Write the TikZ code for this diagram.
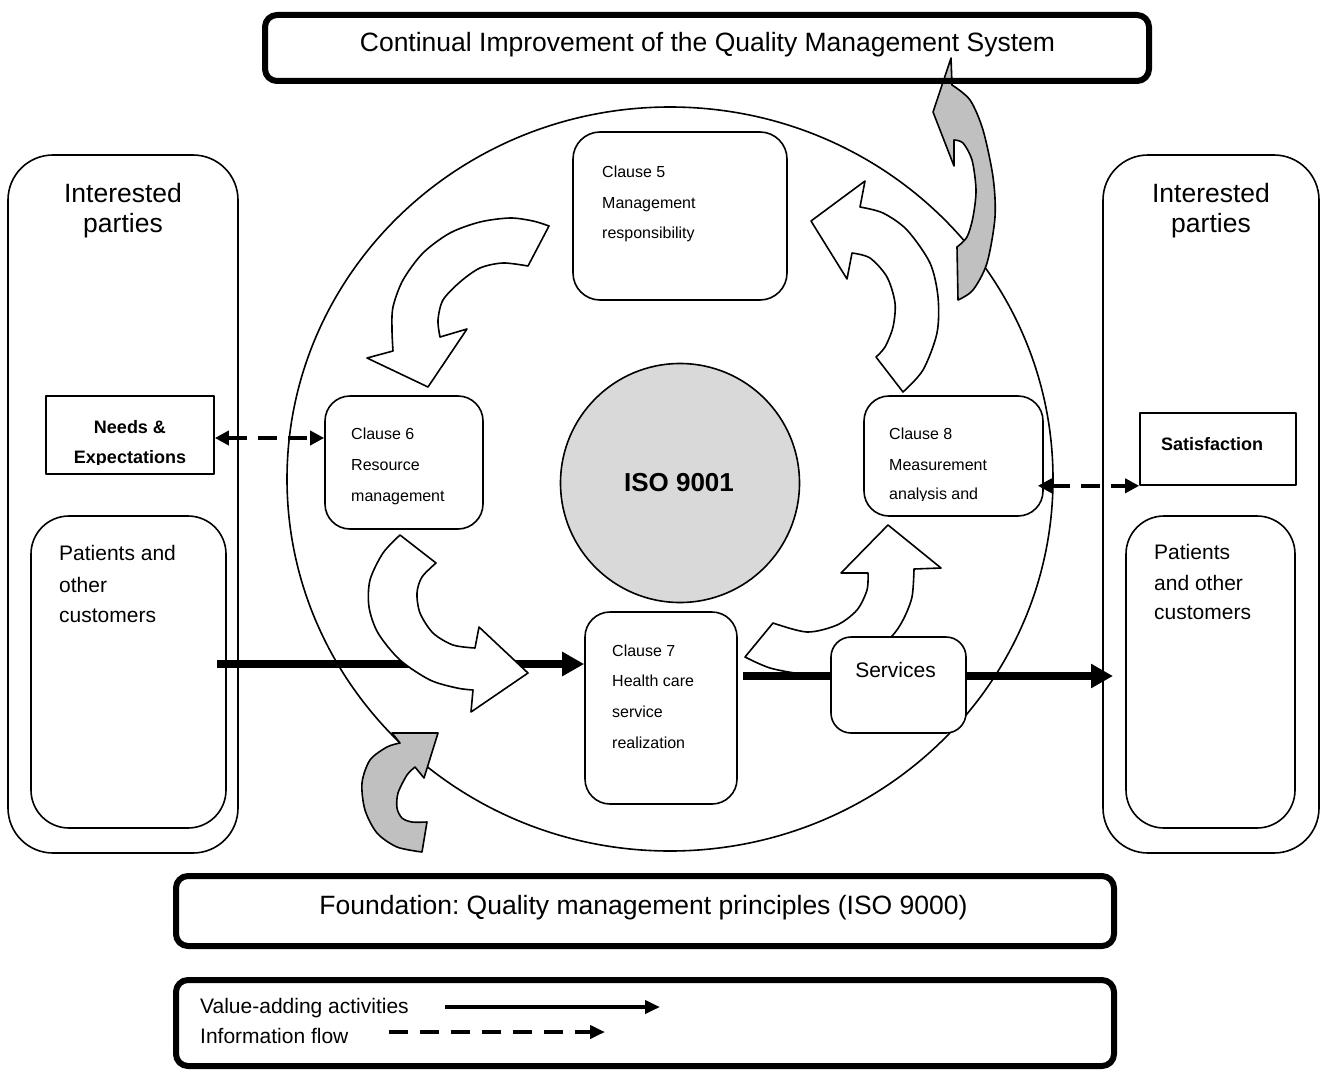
\documentclass[tikz,border=0pt]{standalone}
\usepackage{fontspec}
\setmainfont{Liberation Sans}
\usetikzlibrary{arrows.meta,shapes.geometric}
\definecolor{arrowgray}{HTML}{C0C0C0}
\definecolor{isogray}{HTML}{D9D9D9}
\frenchspacing
\begin{document}
\begin{tikzpicture}[x=1pt,y=-1pt,
  line join=round,
  heavybox/.style={draw, line width=6pt, rounded corners=12pt, inner sep=0pt},
  roundbox/.style={draw, line width=1.6pt, fill=white, inner sep=0pt},
  openbox/.style={draw, line width=1.6pt, inner sep=0pt},
  bigtext/.style={inner sep=0pt, anchor=base, font=\fontsize{26.5}{30}\selectfont},
  midtext/.style={inner sep=0pt, anchor=base west, font=\fontsize{21}{25}\selectfont},
  cltext/.style={inner sep=0pt, anchor=base west, font=\fontsize{16}{19}\selectfont},
  boldtext/.style={inner sep=0pt, anchor=base, font=\bfseries\fontsize{18}{21}\selectfont},
  blockwhite/.style={draw, line width=1.6pt, fill=white},
  blockgray/.style={draw, line width=1.6pt, fill=arrowgray},
  valueflow/.style={line width=8pt, -{Triangle[length=22pt,width=23pt]}},
  infoflow/.style={line width=4.5pt, dash pattern=on 19pt off 11pt,
     {Triangle[length=14pt,width=14pt]}-{Triangle[length=14pt,width=14pt]}},
  legsolid/.style={line width=4pt, -{Triangle[length=15pt,width=13pt]}},
  legdash/.style={line width=4pt, dash pattern=on 19pt off 12pt, -{Triangle[length=15pt,width=13pt]}},
]
\useasboundingbox (0,0) rectangle (1327,1070);

% big circle
\node[draw, line width=1.6pt, ellipse, minimum width=766pt, minimum height=744pt, inner sep=0pt] (bigcircle) at (670,479) {};

% interested parties columns
\node[openbox, rounded corners=45pt, minimum width=230pt, minimum height=698pt] (leftouter) at (123,504) {};
\node[openbox, rounded corners=38pt, minimum width=195pt, minimum height=312pt] (leftinner) at (128.5,672) {};
\node[openbox, rounded corners=45pt, minimum width=216pt, minimum height=698pt] (rightouter) at (1211,504) {};
\node[openbox, rounded corners=38pt, minimum width=169pt, minimum height=312pt] (rightinner) at (1210.5,672) {};

\node[bigtext] (lip1) at (123,202) {Interested};
\node[bigtext] (lip2) at (123,232) {parties};
\node[bigtext] (rip1) at (1211,202) {Interested};
\node[bigtext] (rip2) at (1211,232) {parties};

\node[midtext] (lpc1) at (59,560) {Patients and};
\node[midtext] (lpc2) at (59,592) {other};
\node[midtext] (lpc3) at (59,622) {customers};
\node[midtext] (rpc1) at (1154,559) {Patients};
\node[midtext] (rpc2) at (1154,590) {and other};
\node[midtext] (rpc3) at (1154,619) {customers};

% needs and satisfaction
\node[roundbox, minimum width=168pt, minimum height=78pt] (needs) at (130,435) {};
\begin{scope}
  \clip (46,396) rectangle (214,464);
  \node[boldtext] (needs1) at (130,433) {Needs \&};
  \node[boldtext] (needs2) at (130,463) {Expectations};
\end{scope}
\node[roundbox, minimum width=156pt, minimum height=72pt] (sat) at (1218,449) {};
\node[boldtext] (sattext) at (1212,450) {Satisfaction};

% clause boxes
\node[roundbox, rounded corners=27pt, minimum width=214pt, minimum height=168pt] (c5) at (680,216) {};
\node[cltext] (c5a) at (602,177) {Clause 5};
\node[cltext] (c5b) at (602,208) {Management};
\node[cltext] (c5c) at (602,238) {responsibility};

\node[roundbox, rounded corners=25pt, minimum width=158pt, minimum height=133pt] (c6) at (404,462.5) {};
\node[cltext] (c6a) at (351,439) {Clause 6};
\node[cltext] (c6b) at (351,470) {Resource};
\node[cltext] (c6c) at (351,501) {management};

\node[roundbox, rounded corners=25pt, minimum width=152pt, minimum height=192pt] (c7) at (661,708) {};
\node[cltext] (c7a) at (612,656) {Clause 7};
\node[cltext] (c7b) at (612,686) {Health care};
\node[cltext] (c7c) at (612,717) {service};
\node[cltext] (c7d) at (612,748) {realization};

\node[roundbox, rounded corners=25pt, minimum width=179pt, minimum height=120pt] (c8) at (953.5,456) {};
\begin{scope}
  \clip (864,396) rectangle (1043,500);
  \node[cltext] (c8a) at (889,439) {Clause 8};
  \node[cltext] (c8b) at (889,470) {Measurement};
  \node[cltext] (c8c) at (889,499) {analysis and};
\end{scope}

% ISO circle
\node[draw, line width=1.6pt, fill=isogray, circle, minimum size=239pt, inner sep=0pt] (iso) at (680,483) {};
\node[bigtext, font=\bfseries\fontsize{26}{30}\selectfont] (isotext) at (679,491) {ISO 9001};

% white block arrows
% Clause 5 -> Clause 6
\draw[blockwhite] plot[smooth] coordinates {(549,226) (533,221) (510,218) (480,222) (450,233) (423,253) (403,280) (393,307) (392,330) (393,351)}
  -- (367,358) -- (428,387) -- (467,329)
  -- plot[smooth] coordinates {(440,337) (438,320) (443,300) (460,282) (480,268) (503,263) (528,266)} -- cycle;
% Clause 8 -> Clause 5
\draw[blockwhite] plot[smooth] coordinates {(903,392) (923,370) (937,333) (938,297) (930,263) (907,230) (883,213) (860,207)}
  -- (865,181) -- (811,221) -- (847,279)
  -- plot[smooth] coordinates {(852,253) (870,258) (887,277) (895,303) (893,327) (885,347) (876,357)} -- cycle;
% Clause 7 -> Clause 8
\draw[blockwhite] plot[smooth] coordinates {(745,657) (770,668) (803,674) (830,673) (862,661) (891,637) (903,620) (912,597) (914,569)}
  -- (941,568) -- (888,525) -- (841,573)
  -- plot[smooth] coordinates {(868,573) (867,590) (857,610) (837,625) (807,632) (773,623)} -- cycle;

% value-adding flow into clause 7
\coordinate (vstart) at (217,664);
\draw[valueflow] (vstart) -- (vstart -| c7.west);

% Clause 6 -> Clause 7
\draw[blockwhite] plot[smooth] coordinates {(400,535) (383,553) (370,580) (369,607) (378,633) (400,660) (430,680) (457,688) (473,690)}
  -- (471,712) -- (528,673) -- (479,627)
  -- plot[smooth] coordinates {(475,648) (453,645) (433,633) (420,613) (417,593) (422,577) (436,563)} -- cycle;

% value-adding flow out of clause 7
\coordinate (vend) at (1113,676);
\draw[valueflow] ([xshift=5pt]c7.east |- vend) -- (vend);

% services
\node[roundbox, rounded corners=20pt, minimum width=135pt, minimum height=96pt] (services) at (898.5,685) {};
\node[bigtext, font=\fontsize{21}{25}\selectfont] (servtext) at (895.5,677) {Services};

% information flows
\draw[infoflow] ([yshift=-3pt]needs.east) -- ([yshift=-3pt]needs.east -| c6.west);
\draw[infoflow] ([xshift=-6pt]sat.south west -| c8.east) -- (sat.south west);

% gray arrows
\draw[blockgray] plot[smooth] coordinates {(958,300) (973,290) (987,263) (995,217) (993,177) (983,130) (970,100) (952,85)}
  -- (951,58) -- (933,112) -- (954,166)
  -- plot[smooth] coordinates {(954,140) (963,143) (972,160) (976,190) (973,217) (967,237) (957,247)} -- cycle;
\draw[blockgray] plot[smooth] coordinates {(422,852) (397,847) (377,833) (365,810) (362,783) (370,760) (387,747) (400,743)}
  -- (392,733) -- (438,733) -- (424,778)
  -- plot[smooth] coordinates {(415,767) (407,775) (398,793) (397,808) (402,818) (412,822) (427,822)} -- cycle;

% top, foundation and legend boxes
\node[heavybox, minimum width=884pt, minimum height=66pt] (topbox) at (707,48) {};
\node[bigtext] (toptext) at (707.5,52) {Continual Improvement of the Quality Management System};
\node[heavybox, minimum width=938pt, minimum height=70pt] (foundation) at (645,911) {};
\node[bigtext] (foundtext) at (643.5,914) {Foundation: Quality management principles (ISO 9000)};
\node[heavybox, minimum width=938pt, minimum height=86pt] (legend) at (645,1023) {};
\node[midtext] (legval) at (200,1013) {Value-adding activities};
\node[midtext] (leginfo) at (200,1043) {Information flow};
\coordinate (l1s) at (445,1007);
\coordinate (l1e) at (660,1007);
\coordinate (l2s) at (389,1032);
\coordinate (l2e) at (605,1032);
\draw[legsolid] (l1s) -- (l1e);
\draw[legdash] (l2s) -- (l2e);
\end{tikzpicture}
\end{document}
